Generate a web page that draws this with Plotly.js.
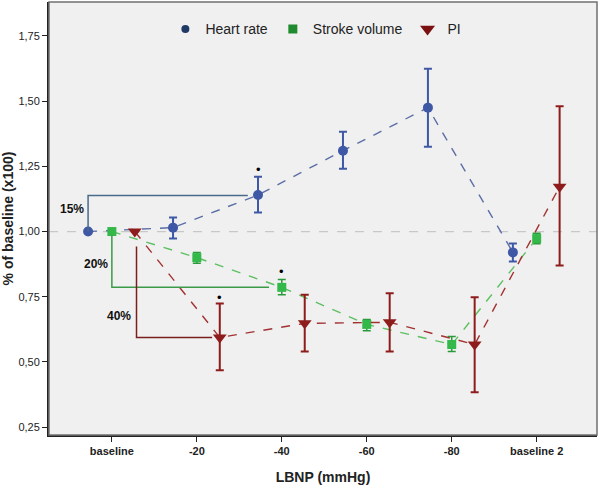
<!DOCTYPE html>
<html>
<head>
<meta charset="utf-8">
<script src="https://cdn.plot.ly/plotly-3.0.1.min.js"></script>
<style>html,body{margin:0;padding:0;background:#fff;}#chart{width:600px;height:486px;}</style>
</head>
<body>
<div id="chart"></div>
<script>
var categories = ['baseline', '-20', '-40', '-60', '-80', 'baseline 2'];
var heartRate = [1.00, 1.015, 1.14, 1.31, 1.475, 0.92];
var heartRateErrPlus = [0, 0.039, 0.07, 0.073, 0.149, 0.034];
var heartRateErrMinus = [0, 0.042, 0.067, 0.069, 0.15, 0.035];
var strokeVolume = [1.00, 0.90, 0.786, 0.644, 0.567, 0.973];
var strokeVolumeErrPlus = [0, 0.02, 0.03, 0.019, 0.031, 0.02];
var strokeVolumeErrMinus = [0, 0.022, 0.028, 0.024, 0.027, 0.02];
var pi = [1.00, 0.594, 0.648, 0.652, 0.567, 1.172];
var piErrPlus = [0, 0.13, 0.11, 0.111, 0.181, 0.308];
var piErrMinus = [0, 0.126, 0.108, 0.112, 0.183, 0.302];
var yTicks = [0.25, 0.50, 0.75, 1.00, 1.25, 1.50, 1.75];

var idx = categories.map(function (c, i) { return i; });
function shift(d) { return idx.map(function (i) { return i + d; }); }

var FONT = 'Arial, "Liberation Sans", sans-serif';

var traces = [
  {
    name: 'Heart rate', x: shift(-0.28), y: heartRate, type: 'scatter', mode: 'lines+markers',
    line: {color: '#5b6ea6', width: 1.4, dash: 'dash'},
    marker: {symbol: 'circle', size: 10, color: '#3f58a6'},
    error_y: {type: 'data', symmetric: false, array: heartRateErrPlus, arrayminus: heartRateErrMinus, color: '#3f58a6', thickness: 2, width: 4},
    showlegend: false
  },
  {
    name: 'Stroke volume', x: shift(0), y: strokeVolume, type: 'scatter', mode: 'lines+markers',
    line: {color: '#5cbf60', width: 1.4, dash: 'dash'},
    marker: {symbol: 'square', size: 9, color: '#35b84a'},
    error_y: {type: 'data', symmetric: false, array: strokeVolumeErrPlus, arrayminus: strokeVolumeErrMinus, color: '#2a9a3a', thickness: 1.5, width: 4},
    showlegend: false
  },
  {
    name: 'PI', x: shift(0.27), y: pi, type: 'scatter', mode: 'lines+markers',
    line: {color: '#a23232', width: 1.4, dash: 'dash'},
    marker: {symbol: 'triangle-down', size: 12, color: '#8e1c1c'},
    error_y: {type: 'data', symmetric: false, array: piErrPlus, arrayminus: piErrMinus, color: '#8e1c1c', thickness: 2, width: 4},
    showlegend: false
  },
  {name: 'Heart rate', x: [null], y: [null], type: 'scatter', mode: 'markers', marker: {symbol: 'circle', size: 8, color: '#1f3a66'}},
  {name: 'Stroke volume', x: [null], y: [null], type: 'scatter', mode: 'markers', marker: {symbol: 'square', size: 9, color: '#1f8a2e'}},
  {name: 'PI', x: [null], y: [null], type: 'scatter', mode: 'markers', marker: {symbol: 'triangle-down', size: 13, color: '#7a1010'}}
];

var shapes = [
  {type: 'line', xref: 'paper', yref: 'y', x0: 0, x1: 1, y0: 1, y1: 1, line: {color: '#c8c8c8', width: 1.2, dash: 'dash'}, layer: 'below'},
  {type: 'rect', xref: 'paper', yref: 'paper', x0: 0, x1: 1, y0: 0, y1: 1, line: {color: '#707070', width: 1.5}},
  // 15% bracket
  {type: 'path', xref: 'x', yref: 'y', path: 'M -0.28,1.0 L -0.28,1.138 L 1.6,1.138', line: {color: '#4a6a8a', width: 1.5}},
  // 20% bracket
  {type: 'path', xref: 'x', yref: 'y', path: 'M 0,0.985 L 0,0.786 L 1.85,0.786', line: {color: '#3a9a48', width: 1.5}},
  // 40% bracket
  {type: 'path', xref: 'x', yref: 'y', path: 'M 0.29,0.943 L 0.29,0.594 L 1.18,0.594', line: {color: '#7a1f1f', width: 1.5}}
];

var annotations = [
  {x: -0.47, y: 1.088, text: '<b>15%</b>', showarrow: false, font: {family: FONT, size: 12, color: '#111'}},
  {x: -0.19, y: 0.877, text: '<b>20%</b>', showarrow: false, font: {family: FONT, size: 12, color: '#111'}},
  {x: 0.08, y: 0.675, text: '<b>40%</b>', showarrow: false, font: {family: FONT, size: 12, color: '#111'}},
  {x: 1.72, y: 1.237, text: '•', showarrow: false, font: {family: FONT, size: 13, color: '#000'}},
  {x: 2.0, y: 0.847, text: '•', showarrow: false, font: {family: FONT, size: 13, color: '#000'}},
  {x: 1.27, y: 0.747, text: '•', showarrow: false, font: {family: FONT, size: 13, color: '#000'}}
];

var layout = {
  width: 600, height: 486,
  margin: {l: 49, r: 3, t: 2, b: 51},
  paper_bgcolor: '#ffffff',
  plot_bgcolor: '#f0f0f0',
  separators: ',.',
  font: {family: FONT, color: '#222'},
  showlegend: true,
  legend: {orientation: 'h', x: 0.487, xanchor: 'center', y: 0.937, yanchor: 'middle', bgcolor: 'rgba(0,0,0,0)', font: {family: FONT, size: 14, color: '#222'}, itemwidth: 30},
  xaxis: {
    range: [-0.74, 5.71], tickmode: 'array', tickvals: idx,
    ticktext: categories.map(function (c) { return '<b>' + c + '</b>'; }),
    showgrid: false, zeroline: false, showline: true, linecolor: '#222', linewidth: 2,
    ticks: 'outside', ticklen: 5, tickcolor: '#222', tickfont: {family: FONT, size: 11, color: '#222'},
    title: {text: '<b>LBNP (mmHg)</b>', font: {family: FONT, size: 14, color: '#222'}, standoff: 16}
  },
  yaxis: {
    range: [0.22, 1.88], tickmode: 'array', tickvals: yTicks, tickformat: '.2f',
    showgrid: false, zeroline: false, showline: true, linecolor: '#222', linewidth: 2,
    ticks: 'outside', ticklen: 5, tickcolor: '#222', tickfont: {family: FONT, size: 11, color: '#222'},
    title: {text: '<b>% of baseline (x100)</b>', font: {family: FONT, size: 14, color: '#222'}, standoff: 8}
  },
  shapes: shapes,
  annotations: annotations
};

Plotly.newPlot('chart', traces, layout, {displayModeBar: false, staticPlot: true});
</script>
</body>
</html>
